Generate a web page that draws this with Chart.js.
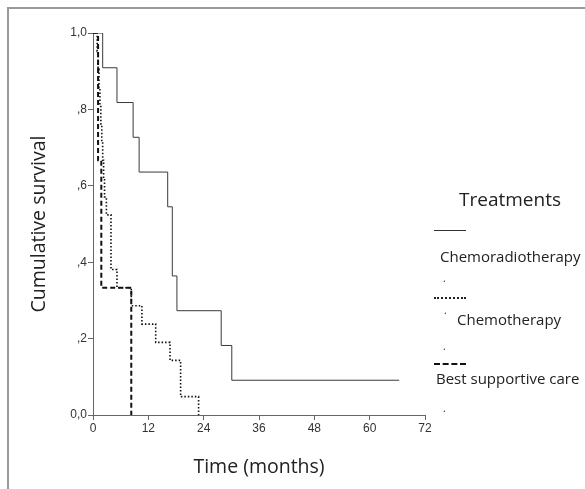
<!DOCTYPE html>
<html>
<head>
<meta charset="utf-8">
<script src="https://cdn.jsdelivr.net/npm/chart.js@4"></script>
<style>
  html, body { margin: 0; padding: 0; background: #fff; }
  #wrap { position: relative; width: 585px; height: 489px; overflow: hidden; }
  #frame { position: absolute; left: 7px; top: 7px; width: 600px; height: 500px;
           border-left: 2px solid #9a9a9a; border-top: 2px solid #9a9a9a; }
  .lg { position: absolute; font-family: "Open Sans", sans-serif; color: #222; white-space: nowrap; line-height: 20px; }
  .sample { position: absolute; left: 434px; width: 32px; height: 0; }
</style>
</head>
<body>
<div id="wrap">
  <div id="frame"></div>
  <canvas id="miGrafico" width="585" height="489"></canvas>
  <div class="lg" style="left:459px; top:189px; font-size:19px;">Treatments</div>
  <div class="sample" style="top:230px; border-top:1px solid #333;"></div>
  <div class="lg" style="left:440px; top:246px; font-size:15px;">Chemoradiotherapy</div>
  <div class="lg" style="left:443px; top:268px; font-size:10px;">.</div>
  <div class="sample" style="top:297px; border-top:2px dotted #222;"></div>
  <div class="lg" style="left:444px; top:300px; font-size:10px;">.</div>
  <div class="lg" style="left:457px; top:309px; font-size:15px;">Chemotherapy</div>
  <div class="lg" style="left:443px; top:336px; font-size:10px;">.</div>
  <div class="sample" style="top:363px; border-top:2px dashed #111;"></div>
  <div class="lg" style="left:436px; top:368px; font-size:15px;">Best supportive care</div>
  <div class="lg" style="left:443px; top:398px; font-size:10px;">.</div>
</div>
<script>
// Kaplan-Meier curves, time in months
const crtTimes  = [0, 2.1, 5.2, 8.7, 10.0, 16.2, 17.2, 18.2, 27.8, 30.1, 66.4];
const crtSurv   = [1.0, 0.909, 0.818, 0.727, 0.636, 0.545, 0.364, 0.273, 0.182, 0.091, 0.091];

const chemoTimes = [0, 0.9, 1.1, 1.3, 1.5, 1.7, 1.9, 2.1, 2.3, 2.5, 2.9, 3.9, 5.2, 8.3, 10.6, 13.6, 16.7, 19.0, 22.9];
const chemoSurv  = [1.0, 0.952, 0.905, 0.857, 0.810, 0.762, 0.714, 0.667, 0.619, 0.571, 0.524, 0.381, 0.333, 0.286, 0.238, 0.190, 0.143, 0.048, 0.0];

const bscTimes = [0, 1.1, 1.8, 8.3];
const bscSurv  = [1.0, 0.667, 0.333, 0.0];

const xTicks = [0, 12, 24, 36, 48, 60, 72];
const yTicks = [0, 0.2, 0.4, 0.6, 0.8, 1.0];

function puntos(ts, ss) {
    return ts.map((t, i) => ({ x: t, y: ss[i] }));
}

function etiquetaY(v) {
    // estilo SPSS: 1,0  ,8  ,6 ... 0,0
    if (v === 0) return '0,0';
    if (v === 1) return '1,0';
    return ',' + Math.round(v * 10);
}

const ctx = document.getElementById('miGrafico').getContext('2d');
const myChart = new Chart(ctx, {
    type: 'line',
    data: {
        datasets: [
            {
                label: 'Chemoradiotherapy',
                data: puntos(crtTimes, crtSurv),
                borderColor: '#3a3a3a',
                borderWidth: 1,
                stepped: true,
                pointRadius: 0
            },
            {
                label: 'Chemotherapy',
                data: puntos(chemoTimes, chemoSurv),
                borderColor: '#111',
                borderWidth: 1.6,
                borderDash: [1.5, 2],
                stepped: true,
                pointRadius: 0
            },
            {
                label: 'Best supportive care',
                data: puntos(bscTimes, bscSurv),
                borderColor: '#111',
                borderWidth: 2,
                borderDash: [5, 3],
                stepped: true,
                pointRadius: 0
            }
        ]
    },
    options: {
        responsive: false,
        animation: false,
        layout: { padding: { left: 20, right: 160, top: 33, bottom: 0 } },
        plugins: {
            legend: { display: false },
            tooltip: { enabled: false }
        },
        scales: {
            x: {
                type: 'linear',
                min: 0,
                max: 72,
                afterFit: (s) => { s.height = 74; },
                afterBuildTicks: (s) => { s.ticks = xTicks.map(v => ({ value: v })); },
                grid: { drawOnChartArea: false, drawTicks: true, tickLength: 5, color: '#666' },
                border: { color: '#666', width: 1 },
                ticks: {
                    padding: 1,
                    maxRotation: 0,
                    color: '#333',
                    font: { family: 'Liberation Sans', size: 12 }
                },
                title: {
                    display: true,
                    text: 'Time (months)',
                    color: '#222',
                    padding: { top: 0, bottom: 10 },
                    font: { family: 'Open Sans', size: 19.5 }
                }
            },
            y: {
                min: 0,
                max: 1,
                afterFit: (s) => { s.width = 73; },
                afterBuildTicks: (s) => { s.ticks = yTicks.map(v => ({ value: v })); },
                grid: { drawOnChartArea: false, drawTicks: true, tickLength: 5, color: '#666' },
                border: { color: '#666', width: 1 },
                ticks: {
                    padding: 1,
                    color: '#333',
                    font: { family: 'Liberation Sans', size: 12 },
                    callback: (v) => etiquetaY(v)
                },
                title: {
                    display: true,
                    text: 'Cumulative survival',
                    color: '#222',
                    padding: { top: 8, bottom: 0 },
                    font: { family: 'Open Sans', size: 19.5 }
                }
            }
        }
    }
});
</script>
</body>
</html>
